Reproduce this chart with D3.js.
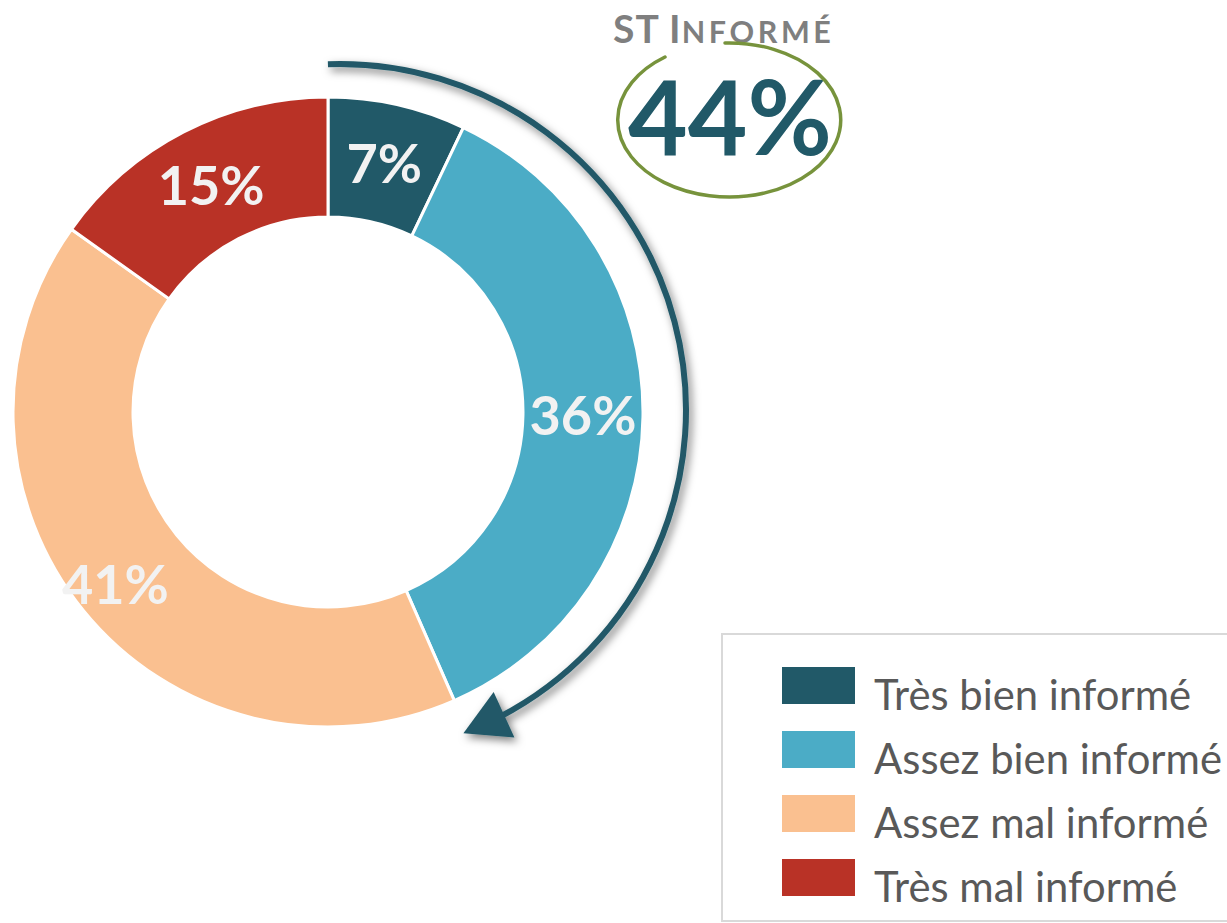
<!DOCTYPE html>
<html>
<head>
<meta charset="utf-8">
<script src="https://cdn.jsdelivr.net/npm/d3@7"></script>
<style>
  body { margin: 0; background: #ffffff; }
  svg { display: block; }
</style>
</head>
<body>
<svg id="chart" width="1227" height="923"></svg>
<script>
// Survey answers, in drawing order (clockwise from 12 o'clock)
const categories = ["Très bien informé", "Assez bien informé", "Assez mal informé", "Très mal informé"];
const values = [7, 36, 41, 15];
const colors = ["#215968", "#4bacc6", "#fac090", "#b93226"];

// Headline total for the two "informé" answers
const totalCaps = "ST I";
const totalSmall = "NFORMÉ";
const totalValue = 44;

const svg = d3.select("#chart");

// ---- filters ----
const defs = svg.append("defs");
const shadow = defs.append("filter").attr("id", "arrowShadow")
  .attr("x", "-20%").attr("y", "-20%").attr("width", "140%").attr("height", "140%");
shadow.append("feDropShadow")
  .attr("dx", 3).attr("dy", 4).attr("stdDeviation", 4.5)
  .attr("flood-color", "#000").attr("flood-opacity", 0.5);

// ---- donut ----
const cx = 328, cy = 412;
const outerR = 315, innerR = 195;
const midR = (innerR + outerR) / 2;

const pie = d3.pie().sort(null).value(d => d.value);
const arcs = pie(categories.map((c, i) => ({ name: c, value: values[i], color: colors[i] })));
const arc = d3.arc().innerRadius(innerR).outerRadius(outerR);

// the large bottom-left label sits a little further out on the ring
const labelRadius = d => (d.data.name === "Assez mal informé" ? midR + 19 : midR);

const g = svg.append("g").attr("transform", `translate(${cx},${cy})`);

g.selectAll("path.slice")
  .data(arcs)
  .join("path")
  .attr("class", "slice")
  .attr("d", arc)
  .attr("fill", d => d.data.color)
  .attr("stroke", "#ffffff")
  .attr("stroke-width", 3)
  .attr("stroke-linejoin", "miter");

g.selectAll("text.val")
  .data(arcs)
  .join("text")
  .attr("class", "val")
  .attr("transform", d => {
    const r = labelRadius(d);
    const [x, y] = d3.arc().innerRadius(r).outerRadius(r).centroid(d);
    return `translate(${x},${y})`;
  })
  .attr("text-anchor", "middle")
  .attr("dy", "0.36em")
  .attr("font-family", "Lato, 'Open Sans', sans-serif")
  .attr("font-weight", 700)
  .attr("font-size", 54)
  .attr("fill", "#f2f2f2")
  .text(d => `${d.data.value}%`);

// ---- curved arrow spanning the two "informé" slices ----
const ax = 340, ay = 410, ar = 346;
const deg = Math.PI / 180;
// angles measured clockwise from 12 o'clock
const aStart = -2 * deg, aShaftEnd = 152.5 * deg, aBase = 151.7 * deg, aTip = 159.1 * deg;
const polar = a => [ax + ar * Math.sin(a), ay - ar * Math.cos(a)];

const shaft = d3.path();
const p0 = polar(aStart);
shaft.moveTo(p0[0], p0[1]);
shaft.arc(ax, ay, ar, aStart - Math.PI / 2, aShaftEnd - Math.PI / 2, false);

const arrow = svg.append("g").attr("filter", "url(#arrowShadow)");
arrow.append("path")
  .attr("d", shaft.toString())
  .attr("fill", "none")
  .attr("stroke", "#215968")
  .attr("stroke-width", 6)
  .attr("stroke-linecap", "butt");

const tip = polar(aTip), base = polar(aBase);
const ux = tip[0] - base[0], uy = tip[1] - base[1];
const ul = Math.hypot(ux, uy);
const nx = -uy / ul, ny = ux / ul;
const hw = 25;
arrow.append("path")
  .attr("d", `M${tip[0]},${tip[1]}L${base[0] + nx * hw},${base[1] + ny * hw}L${base[0] - nx * hw},${base[1] - ny * hw}Z`)
  .attr("fill", "#215968");

// ---- headline ----
const head = svg.append("text")
  .attr("x", 613).attr("y", 43)
  .attr("font-family", "Lato, 'Open Sans', sans-serif")
  .attr("font-weight", 700)
  .attr("fill", "#7f7f7f");
head.append("tspan").attr("font-size", 39).attr("letter-spacing", 1).text(totalCaps);
head.append("tspan").attr("font-size", 30.5).attr("letter-spacing", 3.6).text(totalSmall);

svg.append("text")
  .attr("x", 730).attr("y", 155)
  .attr("text-anchor", "middle")
  .attr("font-family", "Lato, 'Open Sans', sans-serif")
  .attr("font-weight", 700)
  .attr("font-size", 103)
  .attr("fill", "#215968")
  .text(`${totalValue}%`);

// hand-drawn loop around the total
svg.append("path")
  .attr("d", "M725,43 A111.5,77 0 1 1 665,57")
  .attr("fill", "none")
  .attr("stroke", "#77933c")
  .attr("stroke-width", 3.5)
  .attr("stroke-linecap", "round");

// ---- legend ----
const legend = svg.append("g");
legend.append("rect")
  .attr("x", 722).attr("y", 634)
  .attr("width", 540).attr("height", 287)
  .attr("fill", "#ffffff")
  .attr("stroke", "#d9d9d9")
  .attr("stroke-width", 2);

const ly = d3.scalePoint().domain(categories).range([667, 859]);
const items = legend.selectAll("g.item")
  .data(categories)
  .join("g")
  .attr("class", "item")
  .attr("transform", d => `translate(782,${ly(d)})`);
items.append("rect")
  .attr("width", 73).attr("height", 37)
  .attr("fill", (d, i) => colors[i]);
items.append("text")
  .attr("x", 92).attr("y", 43)
  .attr("font-family", "Lato, 'Open Sans', sans-serif")
  .attr("font-size", 41.8)
  .attr("fill", "#595959")
  .text(d => d);
</script>
</body>
</html>
